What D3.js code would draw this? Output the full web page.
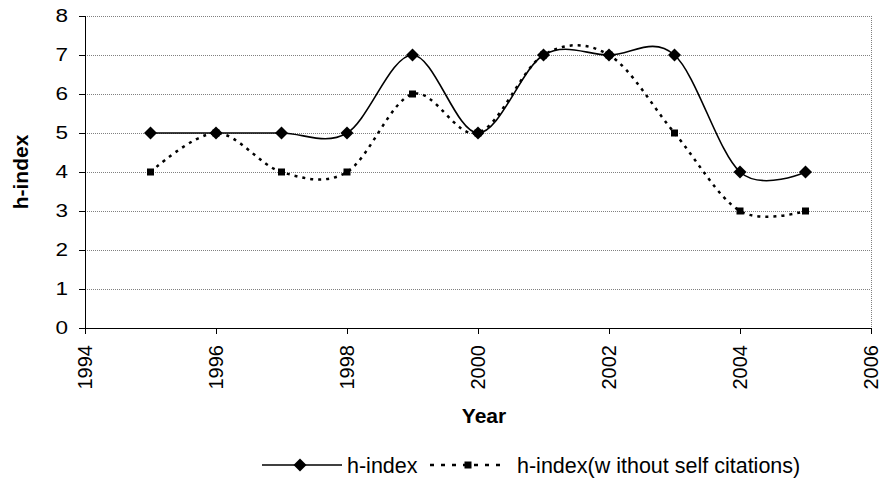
<!DOCTYPE html>
<html>
<head>
<meta charset="utf-8">
<title>h-index</title>
<style>
  body { margin: 0; background: #fff; }
  svg { font-family: "Liberation Sans", Arial, sans-serif; }
  .axis path, .axis line { stroke: #000; stroke-width: 1.5; shape-rendering: crispEdges; }
  .grid line { stroke: #808080; stroke-dasharray: 1,1; shape-rendering: crispEdges; }
</style>
</head>
<body>
<svg width="882" height="479"></svg>
<script src="https://d3js.org/d3.v7.min.js"></script>
<script>
// data
var years = [1995, 1996, 1997, 1998, 1999, 2000, 2001, 2002, 2003, 2004, 2005];
var hIndex = [5, 5, 5, 5, 7, 5, 7, 7, 7, 4, 4];
var hIndexNoSelf = [4, 5, 4, 4, 6, 5, 7, 7, 5, 3, 3];
var xTicks = [1994, 1996, 1998, 2000, 2002, 2004, 2006];
var yTicks = [0, 1, 2, 3, 4, 5, 6, 7, 8];
var seriesNames = ["h-index", "h-index(w ithout self citations)"];

var svg = d3.select("svg"),
    margin = {top: 16, left: 85},
    width = 871 - margin.left,
    height = 328 - margin.top,
    g = svg.append("g").attr("transform", "translate(" + margin.left + "," + margin.top + ")");

var x = d3.scaleLinear().domain([1994, 2006]).range([0, width]);
var y = d3.scaleLinear().domain([0, 8]).range([height, 0]);

// gridlines
g.append("g").attr("class", "grid")
  .selectAll("line")
  .data(yTicks.slice(1))
  .enter().append("line")
  .attr("x1", 0).attr("x2", width)
  .attr("y1", function(d) { return y(d); })
  .attr("y2", function(d) { return y(d); });

// right edge of plot area
g.append("g").attr("class", "grid")
  .append("line")
  .attr("x1", width).attr("x2", width)
  .attr("y1", 0).attr("y2", height);

// x axis
var xAxisG = g.append("g")
  .attr("class", "axis")
  .attr("transform", "translate(0," + height + ")")
  .call(d3.axisBottom(x).tickValues(xTicks).tickFormat(d3.format("d")).tickSizeOuter(0).tickSize(6));
xAxisG.selectAll("text")
  .attr("font-size", 20).attr("fill", "#000")
  .attr("transform", "rotate(-90)")
  .attr("text-anchor", "end")
  .attr("x", -17)
  .attr("y", 0)
  .attr("dy", "0.34em");

// y axis
var yAxisG = g.append("g")
  .attr("class", "axis")
  .call(d3.axisLeft(y).tickValues(yTicks).tickSizeOuter(0).tickSize(6).tickPadding(0));
yAxisG.selectAll("text")
  .attr("font-size", 18).attr("fill", "#000")
  .attr("x", 0)
  .attr("transform", "translate(-17,0) scale(1.25,1)");

// axis titles
svg.append("text")
  .attr("font-size", 21).attr("font-weight", "bold")
  .attr("transform", "translate(28," + (margin.top + height / 2) + ") rotate(-90)")
  .attr("text-anchor", "middle")
  .text("h-index");

svg.append("text")
  .attr("font-size", 21).attr("font-weight", "bold")
  .attr("x", 484).attr("y", 423)
  .attr("text-anchor", "middle")
  .text("Year");

// smoothed lines
var line = d3.line()
  .x(function(d) { return x(d[0]); })
  .y(function(d) { return y(d[1]); })
  .curve(d3.curveCardinal.tension(0));

var s1 = d3.zip(years, hIndex),
    s2 = d3.zip(years, hIndexNoSelf);

g.append("path").datum(s2)
  .attr("fill", "none").attr("stroke", "#000")
  .attr("stroke-width", 2.5)
  .attr("stroke-dasharray", "3,5")
  .attr("d", line);

g.append("path").datum(s1)
  .attr("fill", "none").attr("stroke", "#000")
  .attr("stroke-width", 1.6)
  .attr("d", line);

var diamond = "M0,-6.5L6.5,0L0,6.5L-6.5,0Z";

g.selectAll(".sq").data(s2).enter().append("rect")
  .attr("x", function(d) { return x(d[0]) - 3.5; })
  .attr("y", function(d) { return y(d[1]) - 3.5; })
  .attr("width", 7).attr("height", 7)
  .attr("fill", "#000");

g.selectAll(".dm").data(s1).enter().append("path")
  .attr("d", diamond)
  .attr("transform", function(d) { return "translate(" + x(d[0]) + "," + y(d[1]) + ")"; })
  .attr("fill", "#000");

// legend
var lg = svg.append("g").attr("transform", "translate(0,465)");
lg.append("line").attr("x1", 262).attr("x2", 342).attr("y1", 0).attr("y2", 0)
  .attr("stroke", "#000").attr("stroke-width", 1.6);
lg.append("path").attr("d", diamond).attr("transform", "translate(300,0)").attr("fill", "#000");
lg.append("text").attr("font-size", 21.5).attr("x", 347).attr("y", 0).attr("dy", "0.35em").text(seriesNames[0]);

lg.append("line").attr("x1", 430).attr("x2", 506).attr("y1", 0).attr("y2", 0)
  .attr("stroke", "#000").attr("stroke-width", 2.5).attr("stroke-dasharray", "4,7");
lg.append("rect").attr("x", 464.5).attr("y", -3.5).attr("width", 7).attr("height", 7).attr("fill", "#000");
lg.append("text").attr("font-size", 21.5).attr("x", 517).attr("y", 0).attr("dy", "0.35em").text(seriesNames[1]);
</script>
</body>
</html>
